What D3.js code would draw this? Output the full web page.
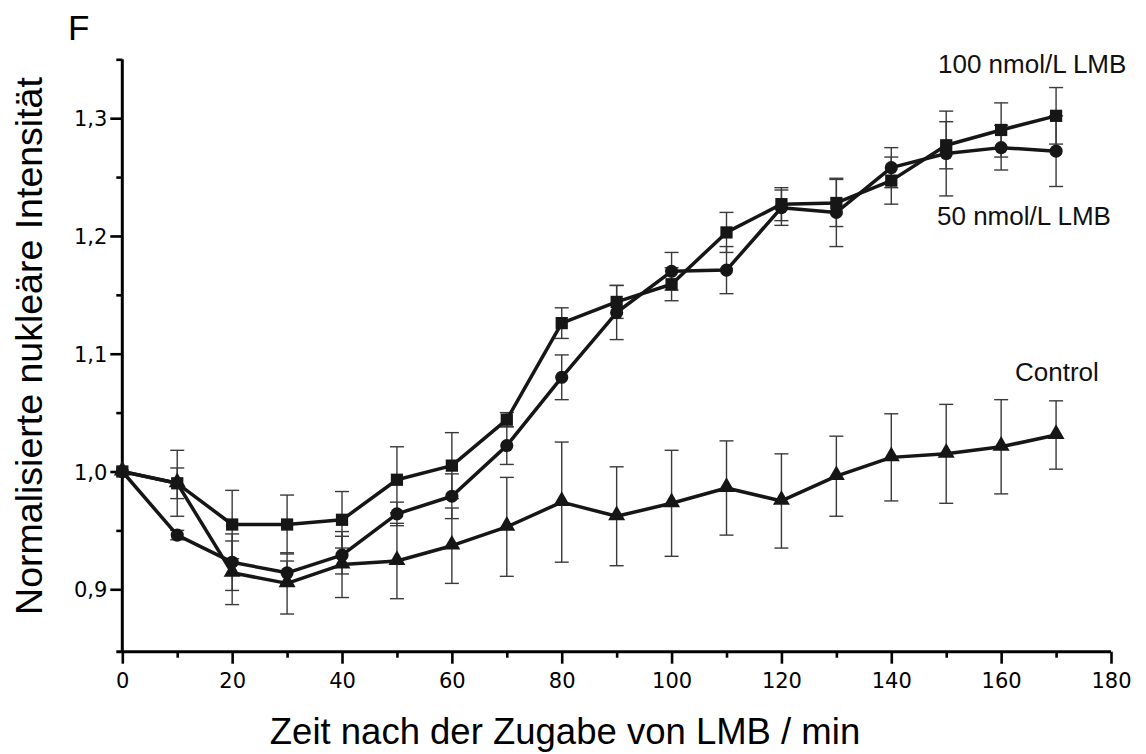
<!DOCTYPE html>
<html>
<head>
<meta charset="utf-8">
<script src="https://cdn.jsdelivr.net/npm/d3@7"></script>
<style>
  html, body { margin: 0; padding: 0; background: #fff; }
  svg { display: block; }
</style>
</head>
<body>
<svg id="chart" width="1146" height="754"></svg>
<script>
// ---- data ----
const times = [0, 10, 20, 30, 40, 50, 60, 70, 80, 90, 100, 110, 120, 130, 140, 150, 160, 170];
const lmb100 = [1.000, 0.990, 0.955, 0.955, 0.959, 0.993, 1.005, 1.044, 1.126, 1.144, 1.159, 1.203, 1.227, 1.228, 1.247, 1.277, 1.290, 1.302];
const err100 = [0, 0.013, 0.029, 0.025, 0.024, 0.028, 0.028, 0.006, 0.013, 0.014, 0.014, 0.017, 0.014, 0.020, 0.020, 0.020, 0.023, 0.024];
const lmb50 = [1.000, 0.946, 0.923, 0.914, 0.929, 0.964, 0.979, 1.022, 1.080, 1.135, 1.170, 1.171, 1.224, 1.220, 1.258, 1.270, 1.275, 1.272];
const err50 = [0, 0.004, 0.024, 0.010, 0.016, 0.010, 0.019, 0.016, 0.019, 0.023, 0.016, 0.020, 0.015, 0.029, 0.017, 0.036, 0.019, 0.030];
const control = [1.000, 0.990, 0.914, 0.905, 0.921, 0.924, 0.937, 0.953, 0.974, 0.962, 0.973, 0.986, 0.975, 0.996, 1.012, 1.015, 1.021, 1.031];
const errCtrl = [0, 0.028, 0.027, 0.026, 0.028, 0.032, 0.032, 0.042, 0.051, 0.042, 0.045, 0.040, 0.040, 0.034, 0.037, 0.042, 0.040, 0.029];

const xTicks = [0, 20, 40, 60, 80, 100, 120, 140, 160, 180];
const xMinorTicks = [10, 30, 50, 70, 90, 110, 130, 150, 170];
const yTicks = [0.9, 1.0, 1.1, 1.2, 1.3];
const yTickLabels = ["0,9", "1,0", "1,1", "1,2", "1,3"];
const yMinorTicks = [0.95, 1.05, 1.15, 1.25, 1.35];

const seriesNames = ["100 nmol/L LMB", "50 nmol/L LMB", "Control"];
const panelLabel = "F";
const xTitle = "Zeit nach der Zugabe von LMB / min";
const yTitle = "Normalisierte nukleäre Intensität";

// ---- layout ----
const svg = d3.select("#chart");
const x = d3.scaleLinear().domain([0, 180]).range([122.3, 1111]);
const y = d3.scaleLinear().domain([0.847, 1.35]).range([651.7, 59.3]);

const lineColor = "#161616";
const errColor = "#3a3a3a";
const fontAxis = "'DejaVu Sans', Verdana, sans-serif";
const fontText = "'Liberation Sans', Arial, sans-serif";

// ---- axes ----
const gx = svg.append("g").attr("transform", `translate(0,${y.range()[0]})`);
gx.call(d3.axisBottom(x).tickValues(xTicks).tickSize(12).tickFormat(d3.format("d")));
const gxm = svg.append("g").attr("transform", `translate(0,${y.range()[0]})`);
gxm.call(d3.axisBottom(x).tickValues(xMinorTicks).tickSize(6).tickFormat(""));

const gy = svg.append("g").attr("transform", `translate(${x.range()[0]},0)`);
gy.call(d3.axisLeft(y).tickValues(yTicks).tickSize(12).tickFormat((d, i) => yTickLabels[i]));
const gym = svg.append("g").attr("transform", `translate(${x.range()[0]},0)`);
gym.call(d3.axisLeft(y).tickValues(yMinorTicks).tickSize(6).tickFormat(""));

[gx, gxm, gy, gym].forEach(g => {
  g.select(".domain").remove();
  g.selectAll(".tick line").attr("stroke", "#000").attr("stroke-width", 2.6);
  g.selectAll(".tick text").attr("fill", "#000").style("font-family", fontAxis).style("font-size", "21px");
});
gx.selectAll(".tick text").attr("dy", "0").attr("y", 36);
gy.selectAll(".tick text").attr("x", -15).attr("dy", "0.36em");

// axis lines
svg.append("line")
  .attr("x1", x.range()[0] - 6).attr("x2", x.range()[1])
  .attr("y1", y.range()[0]).attr("y2", y.range()[0])
  .attr("stroke", "#000").attr("stroke-width", 3);
svg.append("line")
  .attr("x1", x.range()[0]).attr("x2", x.range()[0])
  .attr("y1", y.range()[0]).attr("y2", y.range()[1])
  .attr("stroke", "#000").attr("stroke-width", 3);

// ---- series ----
const series = [
  { vals: lmb100, errs: err100, shape: "square" },
  { vals: lmb50, errs: err50, shape: "circle" },
  { vals: control, errs: errCtrl, shape: "triangle" }
];

const plot = svg.append("g");

// error bars
series.forEach(s => {
  const g = plot.append("g");
  times.forEach((t, i) => {
    const e = s.errs[i];
    if (!e) return;
    const cx = x(t), y1 = y(s.vals[i] + e), y2 = y(s.vals[i] - e);
    g.append("line").attr("x1", cx).attr("x2", cx).attr("y1", y1).attr("y2", y2)
      .attr("stroke", errColor).attr("stroke-width", 1.4);
    [y1, y2].forEach(yy => g.append("line")
      .attr("x1", cx - 7).attr("x2", cx + 7).attr("y1", yy).attr("y2", yy)
      .attr("stroke", errColor).attr("stroke-width", 1.4));
  });
});

// lines
const line = d3.line().x((d, i) => x(times[i])).y(d => y(d));
series.slice().reverse().forEach(s => {
  plot.append("path").datum(s.vals).attr("d", line)
    .attr("fill", "none").attr("stroke", lineColor).attr("stroke-width", 3.5)
    .attr("stroke-linejoin", "round");
});

// markers
const symType = { square: d3.symbolSquare, circle: d3.symbolCircle, triangle: d3.symbolTriangle };
const symSize = { square: 150, circle: 135, triangle: 125 };
series.slice().reverse().forEach(s => {
  const sym = d3.symbol().type(symType[s.shape]).size(symSize[s.shape]);
  plot.append("g").selectAll("path").data(s.vals).join("path")
    .attr("d", sym)
    .attr("transform", (d, i) => `translate(${x(times[i])},${y(d) + (s.shape === "triangle" ? -1 : 0)})`)
    .attr("fill", lineColor);
});

// ---- texts ----
svg.append("text").text(panelLabel).attr("x", 68).attr("y", 40)
  .style("font-family", fontText).style("font-size", "35px").attr("fill", "#000");

svg.append("text").text(xTitle)
  .attr("x", 565).attr("y", 744).attr("text-anchor", "middle")
  .style("font-family", fontText).style("font-size", "36.5px").attr("fill", "#000");

svg.append("text").text(yTitle)
  .attr("transform", "translate(42,346) rotate(-90)").attr("text-anchor", "middle")
  .style("font-family", fontText).style("font-size", "37.5px").attr("fill", "#000");

const labelPos = [[938, 73], [937, 225], [1015, 381]];
seriesNames.forEach((n, i) => {
  svg.append("text").text(n).attr("x", labelPos[i][0]).attr("y", labelPos[i][1])
    .style("font-family", fontText).style("font-size", "26px").attr("fill", "#111");
});
</script>
</body>
</html>
